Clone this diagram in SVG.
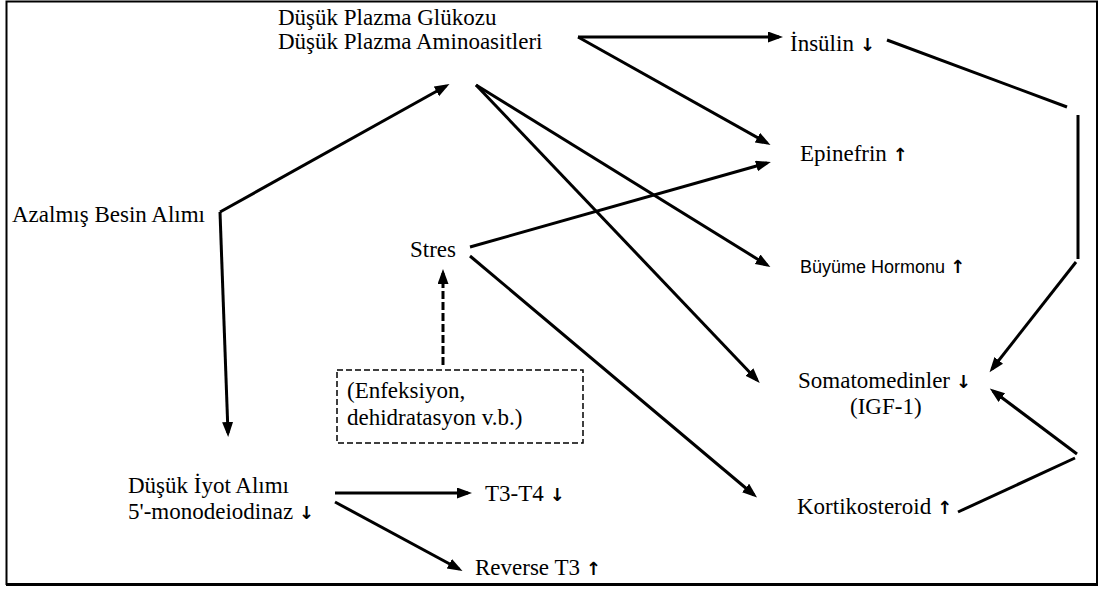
<svg xmlns="http://www.w3.org/2000/svg" width="1099" height="590" viewBox="0 0 1099 590">
<defs>
<style>
.t{font-family:"Liberation Serif","Times New Roman",serif;font-size:23px;fill:#000}
.s{font-family:"Liberation Sans",Arial,sans-serif;font-size:18px;fill:#000}
.ar{font-family:"DejaVu Sans",sans-serif;font-size:18px;font-weight:bold}
.c{stroke:#000;stroke-width:3;fill:none}
.a{marker-end:url(#ah)}
.d{stroke-dasharray:8,3}
</style>
<marker id="ah" markerUnits="userSpaceOnUse" markerWidth="16" markerHeight="12" refX="11" refY="5.5" orient="auto">
<path d="M0,0 L15,5.5 L0,11 z" fill="#000"/>
</marker>
</defs>
<rect x="0" y="0" width="1099" height="590" fill="#fff"/>
<rect x="6.5" y="1.5" width="1090.5" height="582.5" fill="none" stroke="#000" stroke-width="2"/>
<line x1="6" y1="584.5" x2="1098" y2="584.5" stroke="#000" stroke-width="3"/>
<g id="n-plazma"><text class="t" x="278" y="25">Düşük Plazma Glükozu</text><text class="t" x="278" y="49">Düşük Plazma Aminoasitleri</text></g>
<g id="n-insulin"><text class="t" x="790" y="51">İnsülin <tspan class="ar">↓</tspan></text></g>
<g id="n-epinefrin"><text class="t" x="800" y="161">Epinefrin <tspan class="ar">↑</tspan></text></g>
<g id="n-buyume"><text class="s" x="800" y="273">Büyüme Hormonu <tspan class="ar">↑</tspan></text></g>
<g id="n-azalmis"><text class="t" x="12" y="222">Azalmış Besin Alımı</text></g>
<g id="n-stres"><text class="t" x="410" y="257">Stres</text></g>
<g id="n-somato"><text class="t" x="798" y="388">Somatomedinler <tspan class="ar">↓</tspan></text><text class="t" x="850" y="414">(IGF-1)</text></g>
<g id="n-enfeksiyon"><rect x="337" y="370" width="246" height="73" fill="none" stroke="#000" stroke-width="1.5" stroke-dasharray="6,3"/><text class="t" x="347" y="398">(Enfeksiyon,</text><text class="t" x="347" y="425">dehidratasyon v.b.)</text></g>
<g id="n-kortiko"><text class="t" x="797" y="514">Kortikosteroid <tspan class="ar">↑</tspan></text></g>
<g id="n-iyot"><text class="t" x="128" y="493">Düşük İyot Alımı</text><text class="t" x="128" y="519">5'-monodeiodinaz <tspan class="ar">↓</tspan></text></g>
<g id="n-t3t4"><text class="t" x="485" y="501">T3-T4 <tspan class="ar">↓</tspan></text></g>
<g id="n-rt3"><text class="t" x="475" y="575">Reverse T3 <tspan class="ar">↑</tspan></text></g>
<g id="connectors">
<line class="c a" x1="578" y1="37" x2="779" y2="37"/>
<line class="c a" x1="578" y1="37" x2="767" y2="143"/>
<line class="c" x1="887" y1="40" x2="1067" y2="107"/>
<line class="c" x1="1078" y1="115" x2="1078" y2="259"/>
<line class="c a" x1="1076" y1="262" x2="992" y2="369"/>
<line class="c a" x1="220" y1="212" x2="446" y2="86"/>
<line class="c a" x1="220" y1="212" x2="228" y2="433"/>
<line class="c a" x1="476" y1="85" x2="767" y2="265"/>
<line class="c a" x1="476" y1="85" x2="757" y2="380"/>
<line class="c a" x1="470" y1="247" x2="767" y2="163"/>
<line class="c a" x1="470" y1="256" x2="754" y2="495"/>
<line class="c a d" x1="443" y1="365" x2="443" y2="273"/>
<line class="c" x1="958" y1="512" x2="1075" y2="458"/>
<line class="c a" x1="1077" y1="454" x2="993" y2="391"/>
<line class="c a" x1="335" y1="493" x2="468" y2="493"/>
<line class="c a" x1="335" y1="502" x2="459" y2="569"/>
</g>
</svg>
